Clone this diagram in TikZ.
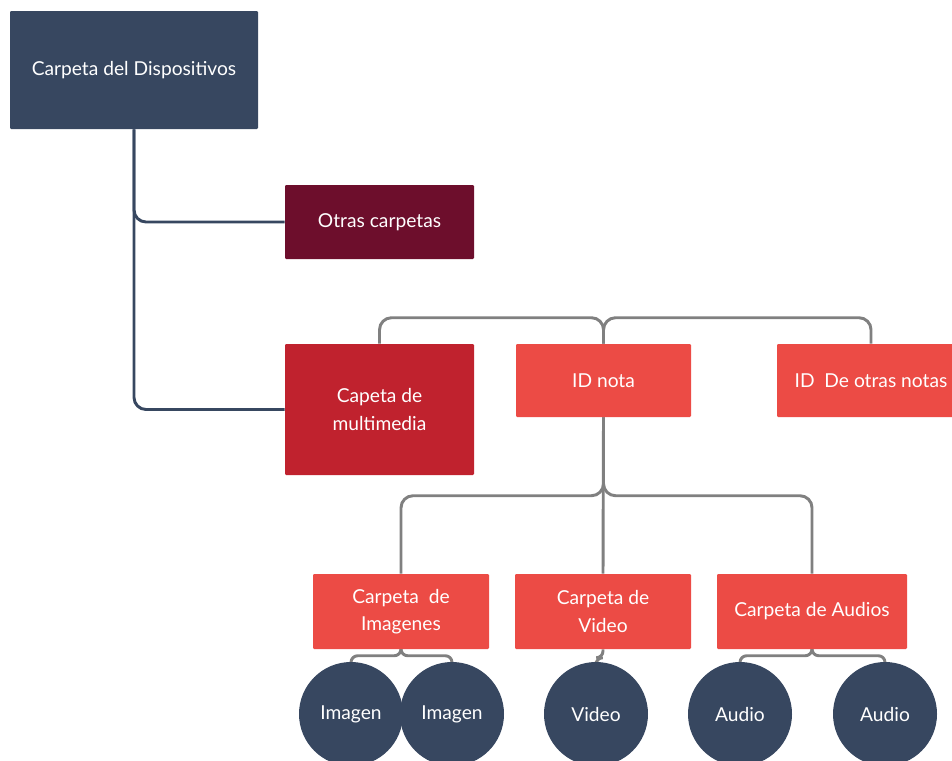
\documentclass[tikz,border=0pt]{standalone}
\usepackage{fontspec}
\setmainfont{Lato}
\usetikzlibrary{backgrounds}
\definecolor{slate}{HTML}{374760}
\definecolor{wine}{HTML}{6D0E2C}
\definecolor{crimson}{HTML}{C0222E}
\definecolor{coral}{HTML}{EC4B45}
\definecolor{linegray}{HTML}{808080}
\tikzset{
  box/.style={rectangle, rounded corners=0.8pt, text=white, align=center,
    font=\fontsize{14.4}{20.3}\selectfont, inner sep=0pt},
  rootbox/.style={box, fill=slate, minimum width=186pt, minimum height=88.5pt},
  otherbox/.style={box, fill=wine, minimum width=141.75pt, minimum height=55.5pt},
  mediabox/.style={box, fill=crimson, minimum width=141.75pt, minimum height=98.25pt},
  notebox/.style={box, fill=coral, minimum height=54.75pt},
  folderbox/.style={box, fill=coral, minimum height=56.25pt},
  item/.style={circle, fill=slate, text=white, minimum size=78pt, inner sep=0pt,
    font=\fontsize{14.4}{20.3}\selectfont},
  darkline/.style={draw=slate, line width=2.2pt, rounded corners=9pt},
  grayline/.style={draw=linegray, line width=2.2pt, rounded corners=9pt},
  smallline/.style={draw=linegray, line width=2.2pt, rounded corners=5pt},
}
\begin{document}
\begin{tikzpicture}[x=0.75pt, y=-0.75pt]
  \useasboundingbox (0,0) rectangle (952,760);
  \clip (0,0) rectangle (952,760);

  % boxes
  \node[rootbox] (root) at (134,70) {Carpeta del Dispositivos};
  \node[otherbox] (otras) at (379.5,222) {Otras carpetas};
  \node[mediabox] (media) at (379.5,409.5) {Capeta de\\multimedia};
  \node[notebox, minimum width=131.25pt] (idn) at (603.5,380.5) {ID nota};
  \node[notebox, minimum width=141pt] (ido) at (871,380.5) {ID\ \ De otras notas};
  \node[folderbox, minimum width=132pt] (img) at (401,611.5) {Carpeta\ \ de\\Imagenes};
  \node[folderbox, minimum width=132pt] (vid) at (603,611.5) {Carpeta de\\Video};
  \node[folderbox, minimum width=142.5pt] (aud) at (812,611.5) {Carpeta de Audios};

  % leaf items
  \node[item] (im1) at (351,714) {Imagen};
  \node[item] (im2) at (452,714) {Imagen};
  \node[item] (v1) at (596,714) {Video};
  \node[item] (a1) at (740,714) {Audio};
  \node[item] (a2) at (885,714) {Audio};

  \begin{scope}[on background layer]
    % root connectors
    \path[darkline] (root.south) |- (otras.west);
    \path[darkline] (root.south) |- (media.west);

    % note connectors over the top
    \path[grayline] (media.north) -- ++(0,-26) -| (idn.north);
    \path[grayline] (ido.north) -- ++(0,-26) -| (idn.north);

    % folder connectors
    \path[grayline] (img.north) -- ++(0,-78) -| (idn.south);
    \path[grayline] (aud.north) -- ++(0,-78) -| (idn.south);
    \path[grayline] (idn.south) -- (vid.north);

    % item connectors
    \path[smallline] (im1.north) -- ++(0,-6) -| (img.south);
    \path[smallline] (im2.north) -- ++(0,-6) -| (img.south);
    \path[smallline] (v1.north) -- ++(0,-4) -| (vid.south);
    \path[smallline] (a1.north) -- ++(0,-6) -| (aud.south);
    \path[smallline] (a2.north) -- ++(0,-6) -| (aud.south);
  \end{scope}
\end{tikzpicture}
\end{document}
